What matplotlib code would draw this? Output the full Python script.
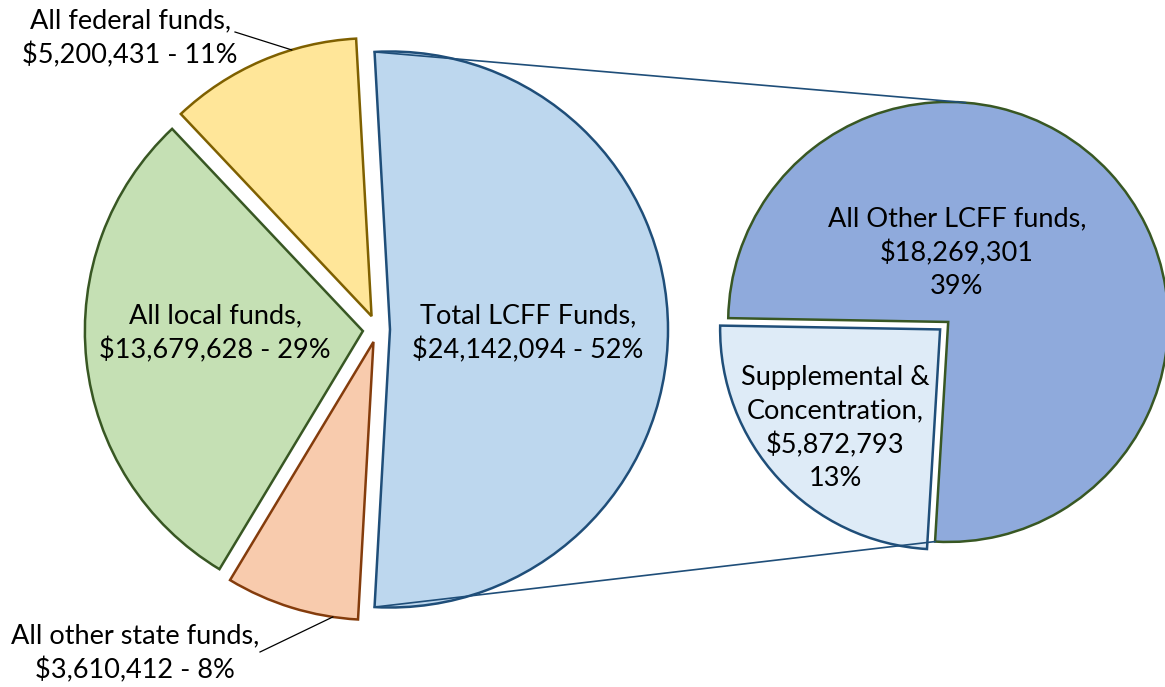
import matplotlib.pyplot as plt
import numpy as np

# main pie: LCFF slice first, then the other sources counterclockwise
main_names = ['Total LCFF Funds,', 'All federal funds,', 'All local funds,', 'All other state funds,']
main_values = [24142094, 5200431, 13679628, 3610412]
main_pct = [52, 11, 29, 8]
main_colors = ['#BDD7EE', '#FFE699', '#C5E0B4', '#F8CBAD']
main_edges = ['#1F4E79', '#7F6000', '#385723', '#843C0C']

# secondary pie: breakdown of the LCFF slice
sub_names = ['Supplemental &\nConcentration,', 'All Other LCFF funds,']
sub_values = [5872793, 18269301]
sub_pct = [13, 39]
sub_colors = ['#DEEBF7', '#8FAADC']
sub_edges = ['#1F4E79', '#385723']

W, H = 1165, 687
FONT = 'Lato'
FS = 19.5
LS = 1.4


def money(v):
    return '${:,}'.format(v)


fig = plt.figure(figsize=(W / 100, H / 100), dpi=100)
ax = fig.add_axes([0, 0, 1, 1])

# left pie
c1 = (377.3, H - 329.5)
r1 = 278
start1 = -180 * main_values[0] / sum(main_values)
w1, _ = ax.pie(main_values, center=c1, radius=r1, startangle=start1,
               explode=[12.7, 14.5, 14.5, 13], colors=main_colors,
               wedgeprops=dict(linewidth=1.8))
for w, ec in zip(w1, main_edges):
    w.set_edgecolor(ec)

# right pie
c2 = (946, H - 324)
r2 = 220
w2, _ = ax.pie(sub_values, center=c2, radius=r2, startangle=179,
               explode=[8, 3], colors=sub_colors,
               wedgeprops=dict(linewidth=1.8))
for w, ec in zip(w2, sub_edges):
    w.set_edgecolor(ec)


def edge_pt(w, ang, rr=None):
    cx, cy = w.center
    rr = w.r if rr is None else rr
    a = np.radians(ang)
    return cx + rr * np.cos(a), cy + rr * np.sin(a)


# series lines between the pies
lc = w1[0]
other = w2[1]
p_top = edge_pt(lc, lc.theta2)
p_bot = edge_pt(lc, lc.theta1)
q_top = edge_pt(other, 85.5)
q_bot = edge_pt(other, other.theta1)
ax.plot([p_top[0], q_top[0]], [p_top[1], q_top[1]], color='#1F4E79', lw=1.2)
ax.plot([p_bot[0], q_bot[0]], [p_bot[1], q_bot[1]], color='#1F4E79', lw=1.2)

txt = dict(ha='center', va='center', fontsize=FS, family=FONT, linespacing=LS)

# labels inside slices
ax.text(528, H - 333, f'{main_names[0]}\n{money(main_values[0])} - {main_pct[0]}%', **txt)
ax.text(215, H - 333, f'{main_names[2]}\n{money(main_values[2])} - {main_pct[2]}%', **txt)
ax.text(957, H - 253, f'{sub_names[1]}\n{money(sub_values[1])}\n{sub_pct[1]}%', **txt)
ax.text(835, H - 428, f'{sub_names[0]}\n{money(sub_values[0])}\n{sub_pct[0]}%', **txt)

# outside labels with leader lines
ax.text(130, H - 38, f'{main_names[1]}\n{money(main_values[1])} - {main_pct[1]}%', **txt)
f_pt = edge_pt(w1[1], 106.7)
ax.plot([235, f_pt[0]], [H - 32, f_pt[1]], color='black', lw=0.9)

ax.text(135, H - 653, f'{main_names[3]}\n{money(main_values[3])} - {main_pct[3]}%', **txt)
s_pt = edge_pt(w1[3], 261.6)
ax.plot([260, s_pt[0]], [H - 652, s_pt[1]], color='black', lw=0.9)

ax.set_xlim(0, W)
ax.set_ylim(0, H)
ax.set_aspect('equal')
ax.axis('off')

fig.savefig('out.png', dpi=100)
